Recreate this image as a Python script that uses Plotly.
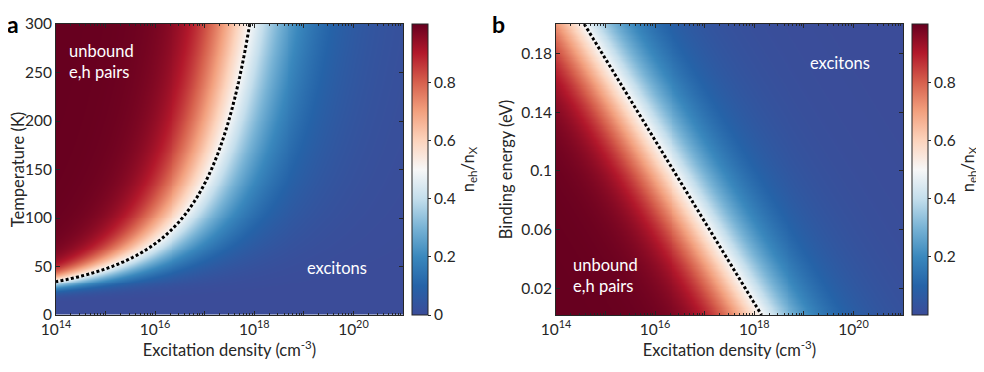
import numpy as np
import plotly.graph_objects as go

# ---- values ----
log_density_range = [14, 21]          # log10 of excitation density (cm^-3)
temperature_range = [0.5, 300]         # K  (panel a)
binding_range = [0.002, 0.2]           # eV (panel b)
log_n_half_300K = 18.23                # log10 density where n_eh/n_X = 0.5 at 300 K, Eb -> 0
binding_energy_a_K = 222.7             # binding energy used in panel a (in kelvin)
temperature_b = 279.0                  # temperature used in panel b (K)

x_tickvals = [14, 15, 16, 17, 18, 19, 20]
x_ticktext = ["10<sup>14</sup>", "", "10<sup>16</sup>", "", "10<sup>18</sup>", "", "10<sup>20</sup>"]
ya_tickvals = [0, 50, 100, 150, 200, 250, 300]
yb_tickvals = [0.02, 0.06, 0.1, 0.14, 0.18]
yb_ticktext = ["0.02", "0.06", "0.1", "0.14", "0.18"]
cb_tickvals = [0, 0.2, 0.4, 0.6, 0.8]
cb_ticktext = ["0", "0.2", "0.4", "0.6", "0.8"]

kB_eV = 8.617e-5

def fraction(logn, T, Eb_K):
    # Saha balance: a^2/(1-a) = S/n
    S = 0.5 * 10 ** log_n_half_300K * (T / 300.0) ** 1.5 * np.exp(-Eb_K / T)
    r = S / 10 ** logn
    return 2.0 / (1.0 + np.sqrt(1.0 + 4.0 / np.maximum(r, 1e-300)))

logn = np.linspace(log_density_range[0], log_density_range[1], 351)
T = np.linspace(temperature_range[0], temperature_range[1], 300)
Eb = np.linspace(binding_range[0], binding_range[1], 250)

LN, TT = np.meshgrid(logn, T)
Za = fraction(LN, TT, binding_energy_a_K)
LN2, EE = np.meshgrid(logn, Eb)
Zb = fraction(LN2, temperature_b, EE / kB_eV)

colorscale = [
    [0.0, "#3b4c99"], [0.1, "#2563a8"], [0.2, "#3a88bd"], [0.3, "#78b3d5"],
    [0.4, "#c4deec"], [0.5, "#f7f7f7"], [0.6, "#fcd3bc"], [0.7, "#f2a07e"],
    [0.8, "#d6604d"], [0.9, "#b2182b"], [1.0, "#67001f"],
]

OFF = 8                      # page body margin of the browser
W, H = 984 - OFF, 372 - OFF
L, R, T0, B = 56 - OFF, 903 - OFF, 24 - OFF, 315 - OFF   # plot-area pixel box
PW, PH = R - L, B - T0
def px(x): return (x - OFF - L) / PW
def py(y): return (B - (y - OFF)) / PH

FONT = "Lato"
TXT = "#262626"
TICK = 15.5
TITLE = 16.5
fig = go.Figure()

def cbar(x0):
    return dict(
        x=px(x0), xanchor="left", xref="paper", y=0, yanchor="bottom", yref="paper",
        len=1, lenmode="fraction", thickness=16, thicknessmode="pixels", xpad=0, ypad=0,
        outlinecolor=TXT, outlinewidth=1, ticks="outside", ticklen=3, tickcolor=TXT,
        tickvals=cb_tickvals, ticktext=cb_ticktext,
        tickfont=dict(family=FONT, size=TICK, color=TXT),
        title=dict(text="n<sub>eh</sub>/n<sub>X</sub>", side="right",
                   font=dict(family=FONT, size=TITLE, color=TXT)),
    )

fig.add_trace(go.Heatmap(x=logn, y=T, z=Za, colorscale=colorscale,
                         colorbar=cbar(412), xaxis="x", yaxis="y", hoverinfo="skip"))
fig.add_trace(go.Contour(x=logn, y=T, z=Za, contours=dict(start=0.5, end=0.5, size=1, coloring="none"),
                         line=dict(color="black", width=3, dash="3px,2.3px"), showscale=False,
                         xaxis="x", yaxis="y", hoverinfo="skip"))
fig.add_trace(go.Heatmap(x=logn, y=Eb, z=Zb, colorscale=colorscale,
                         colorbar=cbar(912), xaxis="x2", yaxis="y2", hoverinfo="skip"))
fig.add_trace(go.Contour(x=logn, y=Eb, z=Zb, contours=dict(start=0.5, end=0.5, size=1, coloring="none"),
                         line=dict(color="black", width=3, dash="3px,2.3px"), showscale=False,
                         xaxis="x2", yaxis="y2", hoverinfo="skip"))

minor_vals = [d + np.log10(k) for d in range(14, 21) for k in range(2, 10)]

def xaxis(dom, anchor):
    return dict(domain=dom, anchor=anchor, range=log_density_range, tickmode="array",
                tickvals=x_tickvals, ticktext=x_ticktext, ticks="inside", ticklen=4,
                tickcolor=TXT, showline=True, linecolor=TXT, linewidth=1, mirror="ticks",
                showgrid=False, zeroline=False, automargin=False,
                minor=dict(tickmode="array", tickvals=minor_vals, ticks="inside", ticklen=2,
                           tickcolor=TXT, showgrid=False),
                tickfont=dict(family=FONT, size=TICK, color=TXT),
                title=dict(text="Excitation density (cm<sup>-3</sup>)", standoff=6,
                           font=dict(family=FONT, size=TITLE, color=TXT)))

def yaxis(anchor, rng, tv, tt, title):
    return dict(domain=[0, 1], anchor=anchor, range=rng, tickmode="array", tickvals=tv, ticktext=tt,
                ticks="inside", ticklen=4, tickcolor=TXT, showline=True, linecolor=TXT,
                linewidth=1, mirror="ticks", showgrid=False, zeroline=False, automargin=False,
                tickfont=dict(family=FONT, size=TICK, color=TXT),
                title=dict(text=title, standoff=4, font=dict(family=FONT, size=TITLE, color=TXT)))

fig.update_layout(
    width=W, height=H, margin=dict(l=L, r=W - R, t=T0, b=H - B, autoexpand=False),
    paper_bgcolor="white", plot_bgcolor="white", showlegend=False,
    xaxis=xaxis([0, px(403)], "y"),
    yaxis=yaxis("x", [0, 300], ya_tickvals, [str(v) for v in ya_tickvals], "Temperature (K)"),
    xaxis2=xaxis([px(556), 1], "y2"),
    yaxis2=yaxis("x2", list(binding_range), yb_tickvals, yb_ticktext, "Binding energy (eV)"),
)

def ann(x, y, text, size=16.5, color="white", bold=False):
    fig.add_annotation(x=px(x), y=py(y), xref="paper", yref="paper", xanchor="left", yanchor="top",
                       text=("<b>%s</b>" % text) if bold else text, showarrow=False, align="left",
                       font=dict(family=FONT, size=size, color=color))

ann(67, 39, "unbound<br>e,h pairs")
ann(305, 256, "excitons")
ann(571, 253, "unbound<br>e,h pairs")
ann(808, 51, "excitons")
ann(5, 8, "a", size=23, color="black", bold=True)
ann(490, 8, "b", size=23, color="black", bold=True)

fig.write_html("out.html")
